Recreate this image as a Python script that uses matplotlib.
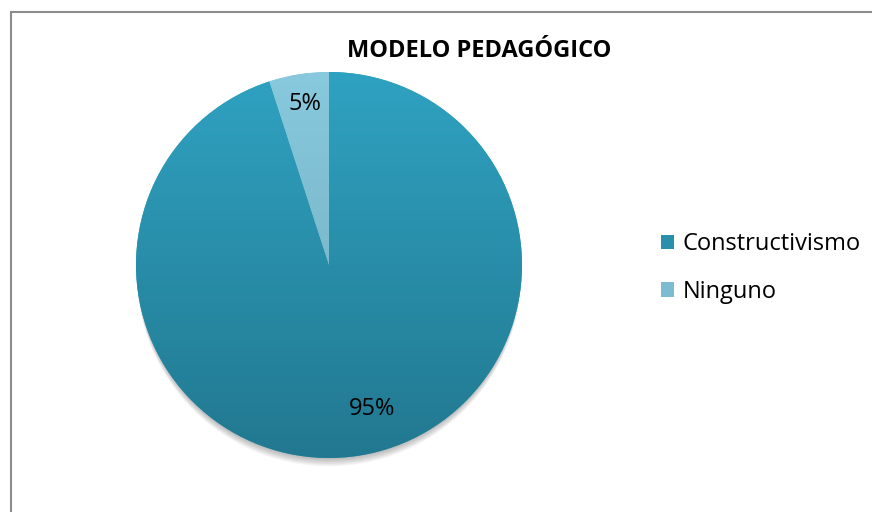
import numpy as np
import matplotlib
matplotlib.use("Agg")
import matplotlib.pyplot as plt
from matplotlib.patches import Rectangle, Circle, Patch
from matplotlib.colors import LinearSegmentedColormap

plt.rcParams['font.family'] = ['Open Sans', 'DejaVu Sans']

title = "MODELO PEDAGÓGICO"
categories = ["Constructivismo", "Ninguno"]
values = [95, 5]
pct_labels = ["95%", "5%"]

top_colors = ["#2FA2C1", "#88C9DD"]
bottom_colors = ["#227890", "#6FA9BC"]
legend_colors = ["#2A8FAA", "#7DBBD0"]

W, H = 872, 512
fig = plt.figure(figsize=(W / 100, H / 100), dpi=100)

# outer chart border
fig.patches.append(Rectangle((10.5 / W, -0.1), 1.2, (H - 11.5) / H + 0.1,
                             transform=fig.transFigure, fill=False,
                             edgecolor="#8C8C8C", linewidth=1.5, zorder=0))

cx, cy, r = 329, 265, 193
ax = fig.add_axes([(cx - r) / W, (H - cy - r) / H, 2 * r / W, 2 * r / H])
ax.set_xlim(-1, 1)
ax.set_ylim(-1, 1)
ax.set_aspect("equal")
ax.axis("off")

# soft shadow below the pie
for i in range(1, 9):
    c = Circle((0, -0.006 * i), 0.995, facecolor="#000000",
               alpha=0.04, edgecolor="none", zorder=0)
    c.set_clip_on(False)
    ax.add_patch(c)

wedges, texts, autotexts = ax.pie(values, startangle=90, counterclock=False,
                                  radius=1, autopct="%1.0f%%", pctdistance=0.8,
                                  wedgeprops=dict(linewidth=0),
                                  textprops=dict(fontsize=17, color="#000000"))

grad = np.linspace(0, 1, 256).reshape(-1, 1)
for w, tc, bc in zip(wedges, top_colors, bottom_colors):
    w.set_facecolor(tc)
    cmap = LinearSegmentedColormap.from_list("g", [tc, bc])
    im = ax.imshow(grad, cmap=cmap, extent=(-1, 1, -1, 1), origin="upper",
                   aspect="auto", zorder=w.get_zorder() + 0.1)
    im.set_clip_path(w)
ax.set_xlim(-1, 1)
ax.set_ylim(-1, 1)

for t, lab in zip(autotexts, pct_labels):
    t.set_text(lab)
    t.set_zorder(10)
autotexts[0].set_position(((372 - cx) / r, (cy - 409) / r))
autotexts[1].set_position(((305 - cx) / r, (cy - 104) / r))

fig.text(479 / W, 1 - 51 / H, title, ha="center", va="center",
         fontsize=17, fontweight="bold", color="#000000")

handles = [Patch(facecolor=c, edgecolor="none") for c in legend_colors]
leg = fig.legend(handles, categories, loc="center left",
                 bbox_to_anchor=(661 / W, 1 - 268 / H), frameon=False,
                 borderaxespad=0, borderpad=0,
                 fontsize=17, handlelength=0.55, handleheight=0.55,
                 handletextpad=0.35, labelspacing=1.0)

fig.savefig("out.png", dpi=100, facecolor="white")
